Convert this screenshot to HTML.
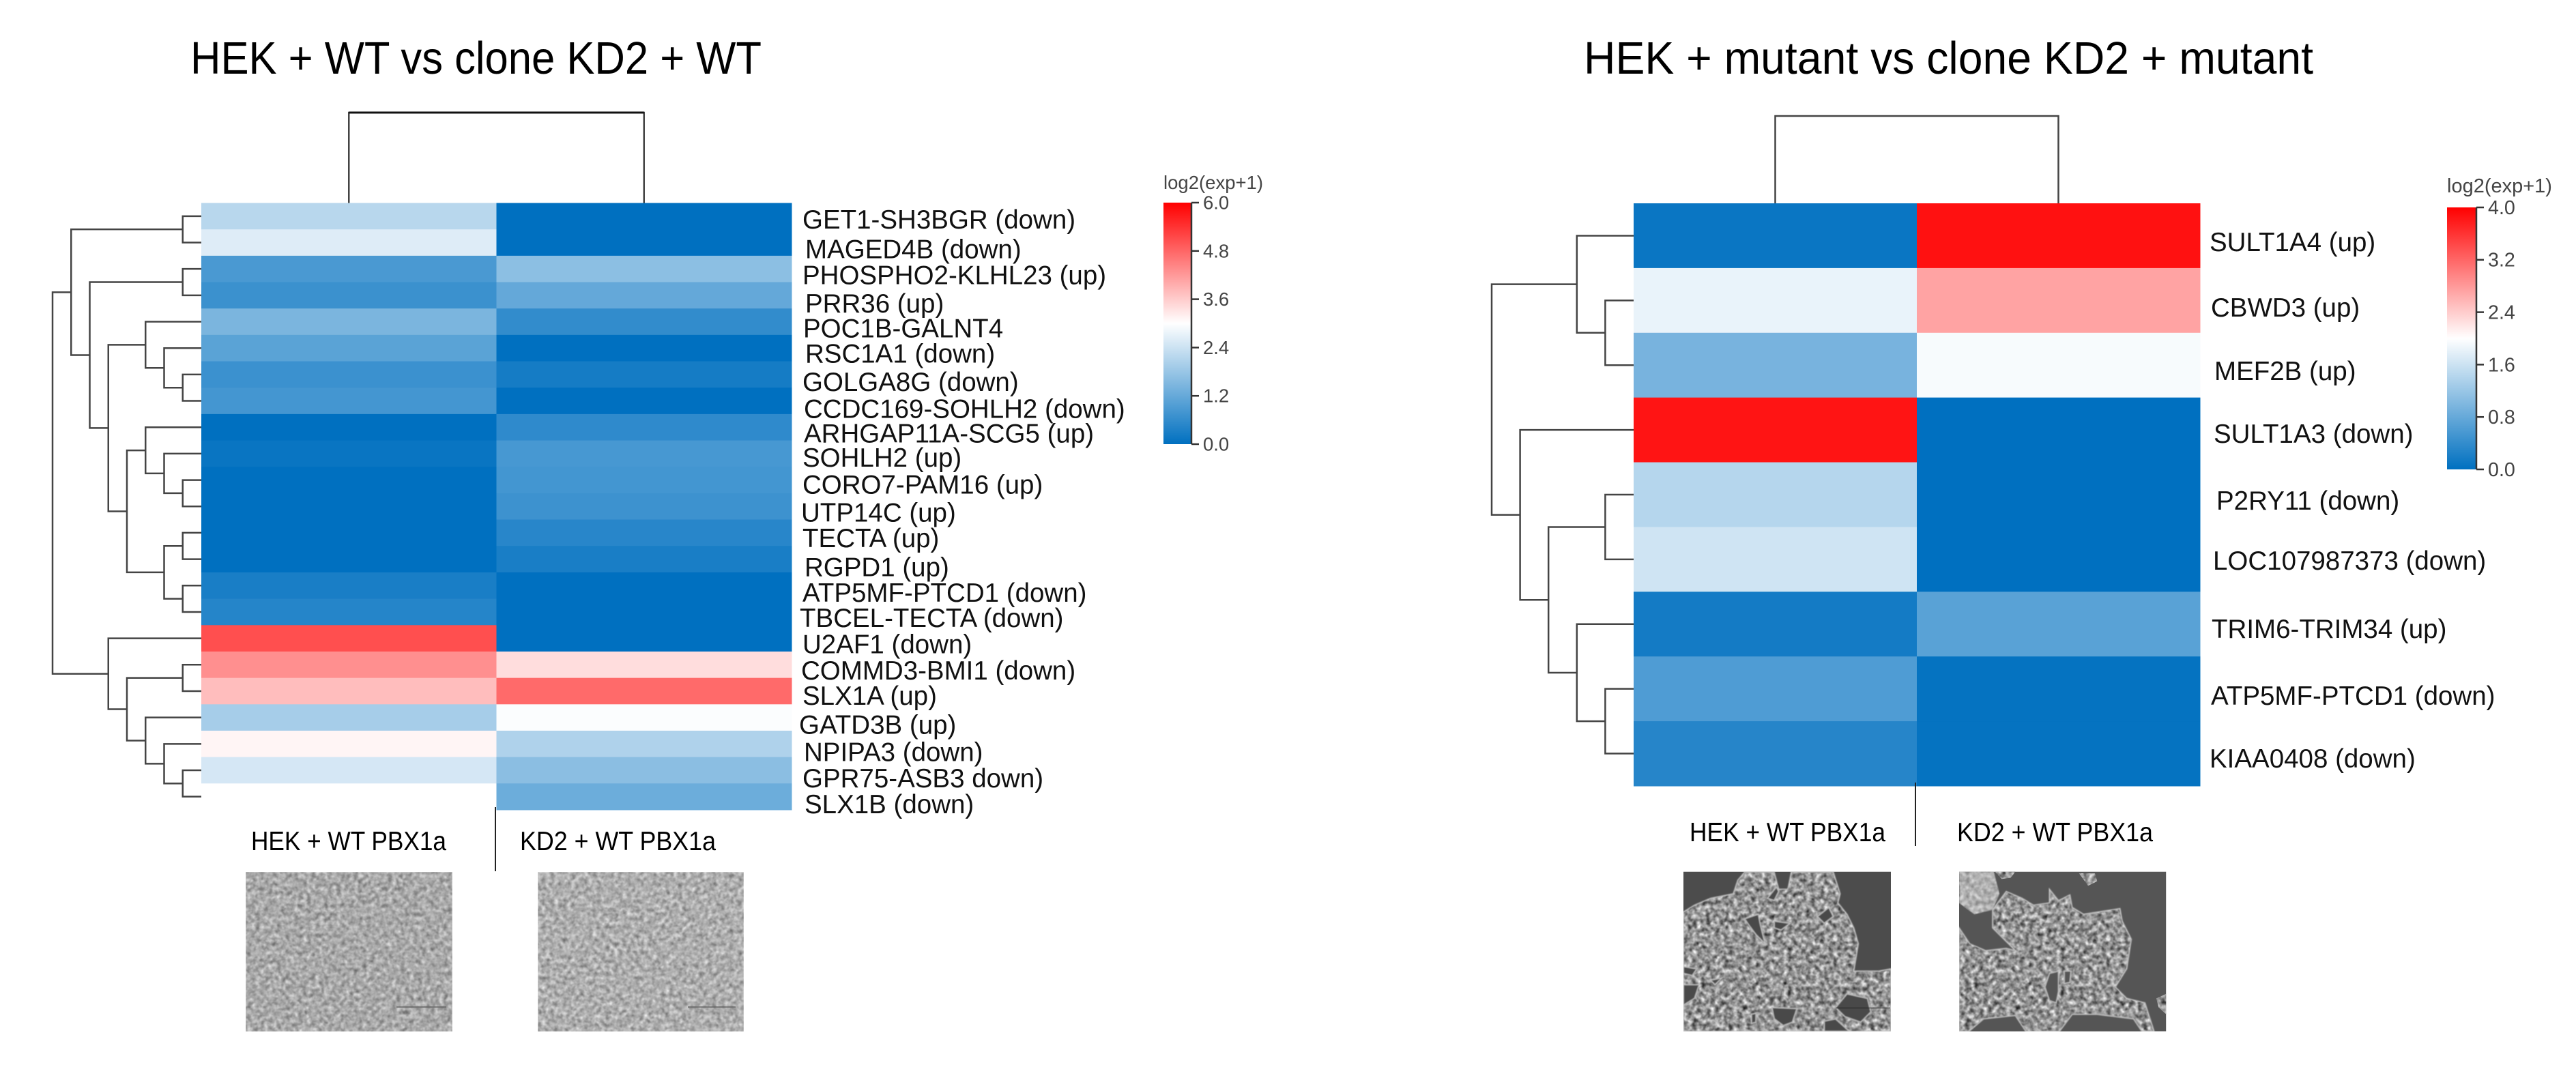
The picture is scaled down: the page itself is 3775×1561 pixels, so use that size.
<!DOCTYPE html>
<html lang="en">
<head>
<meta charset="utf-8">
<title>HEK vs clone KD2 heatmaps</title>
<style>
  html, body { margin: 0; padding: 0; background: #ffffff; }
  body { width: 3775px; height: 1561px; overflow: hidden; }
  svg { display: block; }
  text { font-family: "Liberation Sans", Arial, sans-serif; }
</style>
</head>
<body>
<svg id="figure" xmlns="http://www.w3.org/2000/svg" width="3775" height="1561" viewBox="0 0 3775 1561">
  <defs>
    <linearGradient id="scale-gradient" x1="0" y1="1" x2="0" y2="0">
      <stop offset="0" stop-color="#0070c0"/>
      <stop offset="0.5" stop-color="#ffffff"/>
      <stop offset="1" stop-color="#ff0000"/>
    </linearGradient>
    <filter id="confluent-a" x="0" y="0" width="1" height="1" color-interpolation-filters="sRGB">
      <feTurbulence type="fractalNoise" baseFrequency="0.16" numOctaves="3" seed="4"/>
      <feColorMatrix type="matrix" values="0.42 0.42 0 0 0.24  0.42 0.42 0 0 0.24  0.42 0.42 0 0 0.24  0 0 0 0 1"/>
      <feGaussianBlur stdDeviation="0.9"/>
    </filter>
    <filter id="confluent-b" x="0" y="0" width="1" height="1" color-interpolation-filters="sRGB">
      <feTurbulence type="fractalNoise" baseFrequency="0.16" numOctaves="3" seed="19"/>
      <feColorMatrix type="matrix" values="0.42 0.42 0 0 0.26  0.42 0.42 0 0 0.26  0.42 0.42 0 0 0.26  0 0 0 0 1"/>
      <feGaussianBlur stdDeviation="0.9"/>
    </filter>
    <filter id="colony-texture" x="-5%" y="-5%" width="110%" height="110%" color-interpolation-filters="sRGB">
      <feTurbulence type="fractalNoise" baseFrequency="0.05" numOctaves="3" seed="8" result="n"/>
      <feColorMatrix in="n" type="matrix" values="0.8 0.8 0 0 -0.22  0.8 0.8 0 0 -0.22  0.8 0.8 0 0 -0.22  0 0 0 0 1" result="g"/>
      <feGaussianBlur in="g" stdDeviation="2.6" result="b"/>
      <feComposite in="b" in2="SourceGraphic" operator="in"/>
    </filter>
    <filter id="soft-edge" x="-8%" y="-8%" width="116%" height="116%">
      <feGaussianBlur stdDeviation="2.5"/>
    </filter>
    <clipPath id="clip-colony-a"><rect x="81" y="53" width="912" height="702"/></clipPath>
    <clipPath id="clip-colony-b"><rect x="93" y="53" width="910" height="702"/></clipPath>
  </defs>

  <text x="279" y="108" font-size="67" textLength="837" lengthAdjust="spacingAndGlyphs" fill="#000">HEK + WT vs clone KD2 + WT</text>
  <text x="2321" y="108" font-size="67" textLength="1069" lengthAdjust="spacingAndGlyphs" fill="#000">HEK + mutant vs clone KD2 + mutant</text>

  <g id="left-chart"></g>
  <g id="right-chart"></g>

  <line x1="726" y1="1183" x2="726" y2="1277" stroke="#222" stroke-width="2"/>
  <text x="368" y="1246" font-size="39" textLength="286" lengthAdjust="spacingAndGlyphs" fill="#000">HEK + WT PBX1a</text>
  <text x="762" y="1246" font-size="39" textLength="287" lengthAdjust="spacingAndGlyphs" fill="#000">KD2 + WT PBX1a</text>

  <line x1="2807" y1="1147" x2="2807" y2="1240" stroke="#222" stroke-width="2"/>
  <text x="2476" y="1233" font-size="39" textLength="287" lengthAdjust="spacingAndGlyphs" fill="#000">HEK + WT PBX1a</text>
  <text x="2868" y="1233" font-size="39" textLength="287" lengthAdjust="spacingAndGlyphs" fill="#000">KD2 + WT PBX1a</text>

  <g>
    <rect x="360" y="1278" width="303" height="234" fill="#aaa" filter="url(#confluent-a)"/>
    <line x1="581" y1="1476" x2="654" y2="1476" stroke="#666" stroke-width="1.5"/>
  </g>
  <g>
    <rect x="788" y="1278" width="302" height="234" fill="#aaa" filter="url(#confluent-b)"/>
    <line x1="1008" y1="1476" x2="1078" y2="1476" stroke="#666" stroke-width="1.5"/>
  </g>

  <g transform="translate(2440 1260) scale(0.33333)">
    <g clip-path="url(#clip-colony-a)">
      <rect x="81" y="53" width="912" height="702" fill="#4c4c4c"/>
      <polygon fill="#fff" filter="url(#colony-texture)" points="81,230 130,200 200,170 300,150 320,90 350,55 480,55 500,130 540,130 555,55 740,55 770,150 760,190 800,240 830,300 850,370 830,490 940,490 993,480 993,755 81,755"/>
      <polygon fill="none" stroke="#c2c2c2" stroke-width="5" filter="url(#soft-edge)" points="81,230 130,200 200,170 300,150 320,90 350,55 480,55 500,130 540,130 555,55 740,55 770,150 760,190 800,240 830,300 850,370 830,490 940,490 993,480 993,755 81,755"/>
      <g fill="#4a4a4a" stroke="#bdbdbd" stroke-width="5" filter="url(#soft-edge)">
        <polygon points="350,260 410,240 420,290 440,370 400,330 370,290"/>
        <polygon points="480,270 550,280 510,310 480,300"/>
        <polygon points="670,250 720,210 740,250 700,280"/>
        <polygon points="81,470 140,480 120,510 81,500"/>
        <polygon points="81,550 150,550 130,610 81,640"/>
        <polygon points="200,530 250,520 220,550"/>
        <polygon points="470,650 580,655 560,715 520,730 480,700"/>
        <polygon points="750,650 800,590 890,610 905,670 860,715 790,690"/>
        <polygon points="700,710 750,700 810,755 700,755"/>
        <polygon points="450,170 490,120 500,140 480,180"/>
        <polygon points="380,680 400,675 400,715 380,720"/>
      </g>
      <line x1="750" y1="652" x2="990" y2="652" stroke="#222" stroke-width="3"/>
    </g>
  </g>
  <g transform="translate(2840 1260) scale(0.33333)">
    <g clip-path="url(#clip-colony-b)">
      <rect x="93" y="53" width="910" height="702" fill="#555555"/>
      <polygon fill="#fff" filter="url(#colony-texture)" points="240,220 300,140 370,170 420,200 490,190 490,130 530,180 580,155 590,210 640,240 800,215 810,270 850,350 830,480 780,560 830,610 910,630 950,755 93,755 93,300 140,370 210,400 300,390 340,400 240,300"/>
      <polygon fill="none" stroke="#c2c2c2" stroke-width="5" filter="url(#soft-edge)" points="240,220 300,140 370,170 420,200 490,190 490,130 530,180 580,155 590,210 640,240 800,215 810,270 850,350 830,480 780,560 830,610 910,630 950,755 93,755 93,300 140,370 210,400 300,390 340,400 240,300"/>
      <polygon fill="#c8c8c8" filter="url(#soft-edge)" points="93,53 245,53 270,150 240,220 160,240 93,190"/>
      <polygon fill="#fff" filter="url(#colony-texture)" points="93,53 245,53 270,150 240,220 160,240 93,190" opacity="0.45"/>
      <polygon fill="#fff" filter="url(#colony-texture)" points="620,60 690,60 700,95 660,115"/>
      <polygon fill="#fff" filter="url(#colony-texture)" points="960,610 1003,590 1003,680 970,650"/>
      <polygon fill="#fff" filter="url(#colony-texture)" points="250,53 340,53 320,80 280,85"/>
      <g fill="#555555" stroke="#bdbdbd" stroke-width="5" filter="url(#soft-edge)">
        <polygon points="130,760 200,700 340,685 390,760"/>
        <polygon points="530,760 590,680 700,680 860,700 900,760"/>
        <polygon points="490,500 530,490 530,580 520,630 490,620 470,560"/>
        <polygon points="555,490 585,490 580,540 555,545"/>
      </g>
    </g>
  </g>
</svg>

<script>
// ---- Left heatmap data ----
const leftGenes = ["GET1-SH3BGR (down)", "MAGED4B (down)", "PHOSPHO2-KLHL23 (up)", "PRR36 (up)", "POC1B-GALNT4", "RSC1A1 (down)", "GOLGA8G (down)", "CCDC169-SOHLH2 (down)", "ARHGAP11A-SCG5 (up)", "SOHLH2 (up)", "CORO7-PAM16 (up)", "UTP14C (up)", "TECTA (up)", "RGPD1 (up)", "ATP5MF-PTCD1 (down)", "TBCEL-TECTA (down)", "U2AF1 (down)", "COMMD3-BMI1 (down)", "SLX1A (up)", "GATD3B (up)", "NPIPA3 (down)", "GPR75-ASB3 down)", "SLX1B (down)"];
const leftHekValues = [2.16, 2.61, 0.87, 0.69, 1.45, 1.06, 0.70, 0.80, 0.00, 0.10, 0.00, 0.00, 0.00, 0.00, 0.30, 0.44, 5.07, 4.32, 3.78, 1.95, 3.12, 2.50, 3.00];
const leftKd2Values = [0.00, 0.00, 1.65, 1.18, 0.59, 0.00, 0.25, 0.00, 0.55, 0.84, 0.79, 0.72, 0.47, 0.30, 0.00, 0.00, 0.00, 3.40, 4.75, 2.95, 2.06, 1.64, 1.27];
const leftTickLabels = ["6.0", "4.8", "3.6", "2.4", "1.2", "0.0"];
const leftScaleMax = 6;
// Row clustering: [merge level, child, child]; a bare number is a row index.
const leftRowTree = [8,
  [7, [1, 0, 1],
      [6, [1, 2, 3],
          [5, [3, 4, [2, 5, [1, 6, 7]]],
              [4, [3, 8, [2, 9, [1, 10, 11]]],
                  [2, [1, 12, 13], [1, 14, 15]]]]]],
  [5, 16,
      [4, [1, 17, 18],
          [3, 19, [2, 20, [1, 21, 22]]]]]];

// ---- Right heatmap data ----
const rightGenes = ["SULT1A4 (up)", "CBWD3 (up)", "MEF2B (up)", "SULT1A3 (down)", "P2RY11 (down)", "LOC107987373 (down)", "TRIM6-TRIM34 (up)", "ATP5MF-PTCD1 (down)", "KIAA0408 (down)"];
const rightHekValues = [0.08, 1.83, 0.94, 3.84, 1.42, 1.62, 0.16, 0.62, 0.30];
const rightKd2Values = [3.87, 2.72, 1.94, 0.00, 0.00, 0.00, 0.70, 0.04, 0.04];
const rightTickLabels = ["4.0", "3.2", "2.4", "1.6", "0.8", "0.0"];
const rightScaleMax = 4;
const rightRowTree = [5,
  [2, 0, [1, 1, 2]],
  [4, 3,
      [3, [1, 4, 5],
          [2, 6, [1, 7, 8]]]]];

// ---- Layout (pixels, independent of the data above) ----
const leftLayout = {
  key: "left", x0: 295, x1: 1160, y0: 297.5, y1: 1187, levelStep: 27.25, topY: 165, topBold: true,
  labelX: 1176, labelSize: 38.5,
  nudgeX: [0,4,0,4,1,4,0,2,2,0,0,-2,0,3,0,-4,0,-2,0,-5,2,0,3],
  nudgeY: [5,9.5,9,12,9.5,8,11,11.5,9,6,6.5,9,8,11.5,10.7,9,8.4,8.7,7,10.4,11.7,12,11.3],
  barX0: 1705, barX1: 1746, barY0: 297, barY1: 651, tickSize: 27.5, tickLen: 11,
  legendY: 277, legendSize: 27.5
};
const rightLayout = {
  key: "right", x0: 2394, x1: 3224, y0: 298, y1: 1152, levelStep: 41.6, topY: 170, topBold: false,
  labelX: 3238, labelSize: 38.5,
  nudgeX: [0,2,7,6,10,5,3,2,0],
  nudgeY: [9.5,10.5,8.7,5.8,9,2,7,10,7],
  barX0: 3586, barX1: 3629, barY0: 304, barY1: 688, tickSize: 28.7, tickLen: 11,
  legendY: 282, legendSize: 29
};

const NS = "http://www.w3.org/2000/svg";
function make(tag, attrs, parent) {
  const el = document.createElementNS(NS, tag);
  for (const k in attrs) el.setAttribute(k, attrs[k]);
  parent.appendChild(el);
  return el;
}
function mix(a, b, t) {
  return a.map((v, i) => Math.round(v + (b[i] - v) * t));
}
function valueColor(v, max) {
  const blue = [0, 112, 192], white = [255, 255, 255], red = [255, 0, 0];
  const t = Math.max(0, Math.min(1, v / max));
  const c = t < 0.5 ? mix(blue, white, t * 2) : mix(white, red, (t - 0.5) * 2);
  return "rgb(" + c.join(",") + ")";
}

function drawRowTree(node, g, L, yOfRow, key) {
  if (typeof node === "number") return { x: L.x0, y: yOfRow(node) };
  const nodeX = L.x0 - node[0] * L.levelStep;
  const a = drawRowTree(node[1], g, L, yOfRow, key);
  const b = drawRowTree(node[2], g, L, yOfRow, key);
  const branch = make("path", {
    d: "M" + a.x + " " + a.y + "H" + nodeX + "V" + b.y + "H" + b.x,
    fill: "none", stroke: "#444", "stroke-width": 2.5
  }, g);
  
  
  return { x: nodeX, y: (a.y + b.y) / 2 };
}

function drawHeatmap(root, L, genes, hekValues, kd2Values, ticks, scaleMax, tree) {
  const rowH = (L.y1 - L.y0) / genes.length;
  const colW = (L.x1 - L.x0) / 2;
  const yOfRow = i => L.y0 + rowH * (i + 0.5);
  const xOfCol = c => L.x0 + colW * c;
  const columns = [hekValues, kd2Values];
  const colNames = ["hek", "kd2"];

  const cells = make("g", {}, root);
  
  
  columns.forEach((vals, c) => {
    vals.forEach((v, r) => {
      const cell = make("rect", {
        x: xOfCol(c), y: L.y0 + rowH * r,
        width: colW + 0.5, height: rowH + 0.5,
        fill: valueColor(v, scaleMax)
      }, cells);
      
      
    });
  });

  const labels = make("g", {}, root);
  
  
  genes.forEach((name, i) => {
    const t = make("text", {
      x: L.labelX + (L.nudgeX[i] || 0),
      y: yOfRow(i) + (L.nudgeY[i] || 0) + L.labelSize * 0.344,
      "font-size": L.labelSize, fill: "#111"
    }, labels);
    t.textContent = name;
    
    
  });

  const rowTree = make("g", {}, root);
  
  
  drawRowTree(tree, rowTree, L, yOfRow, L.key);

  const colTree = make("path", {
    d: "M" + (xOfCol(0) + colW / 2) + " " + L.y0 + "V" + L.topY + "H" + (xOfCol(1) + colW / 2) + "V" + L.y0,
    fill: "none", stroke: "#444", "stroke-width": 2.5
  }, root);
  
  
  if (L.topBold) {
    const bold = make("line", {
      x1: xOfCol(0) + colW / 2, x2: xOfCol(1) + colW / 2, y1: L.topY, y2: L.topY,
      stroke: "#111", "stroke-width": 3
    }, root);
    
    
  }

  const legend = make("g", {}, root);
  
  
  const bar = make("rect", {
    x: L.barX0, y: L.barY0, width: L.barX1 - L.barX0, height: L.barY1 - L.barY0,
    fill: "url(#scale-gradient)"
  }, legend);
  
  
  const axis = make("line", {
    x1: L.barX1, x2: L.barX1, y1: L.barY0, y2: L.barY1, stroke: "#333", "stroke-width": 2.5
  }, legend);
  
  
  const yOfValue = v => L.barY1 - (v / scaleMax) * (L.barY1 - L.barY0);
  ticks.forEach(label => {
    const y = yOfValue(parseFloat(label));
    const tick = make("line", {
      x1: L.barX1, x2: L.barX1 + L.tickLen, y1: y, y2: y, stroke: "#333", "stroke-width": 2.5
    }, legend);
    
    
    const txt = make("text", {
      x: L.barX1 + L.tickLen + 6, y: y + L.tickSize * 0.344,
      "font-size": L.tickSize, fill: "#444"
    }, legend);
    txt.textContent = label;
    
    
  });
  const cap = make("text", {
    x: L.barX0, y: L.legendY, "font-size": L.legendSize, fill: "#444"
  }, legend);
  cap.textContent = "log2(exp+1)";
  
  
}

drawHeatmap(document.getElementById("left-chart"), leftLayout, leftGenes, leftHekValues, leftKd2Values, leftTickLabels, leftScaleMax, leftRowTree);
drawHeatmap(document.getElementById("right-chart"), rightLayout, rightGenes, rightHekValues, rightKd2Values, rightTickLabels, rightScaleMax, rightRowTree);
</script>
</body>
</html>
